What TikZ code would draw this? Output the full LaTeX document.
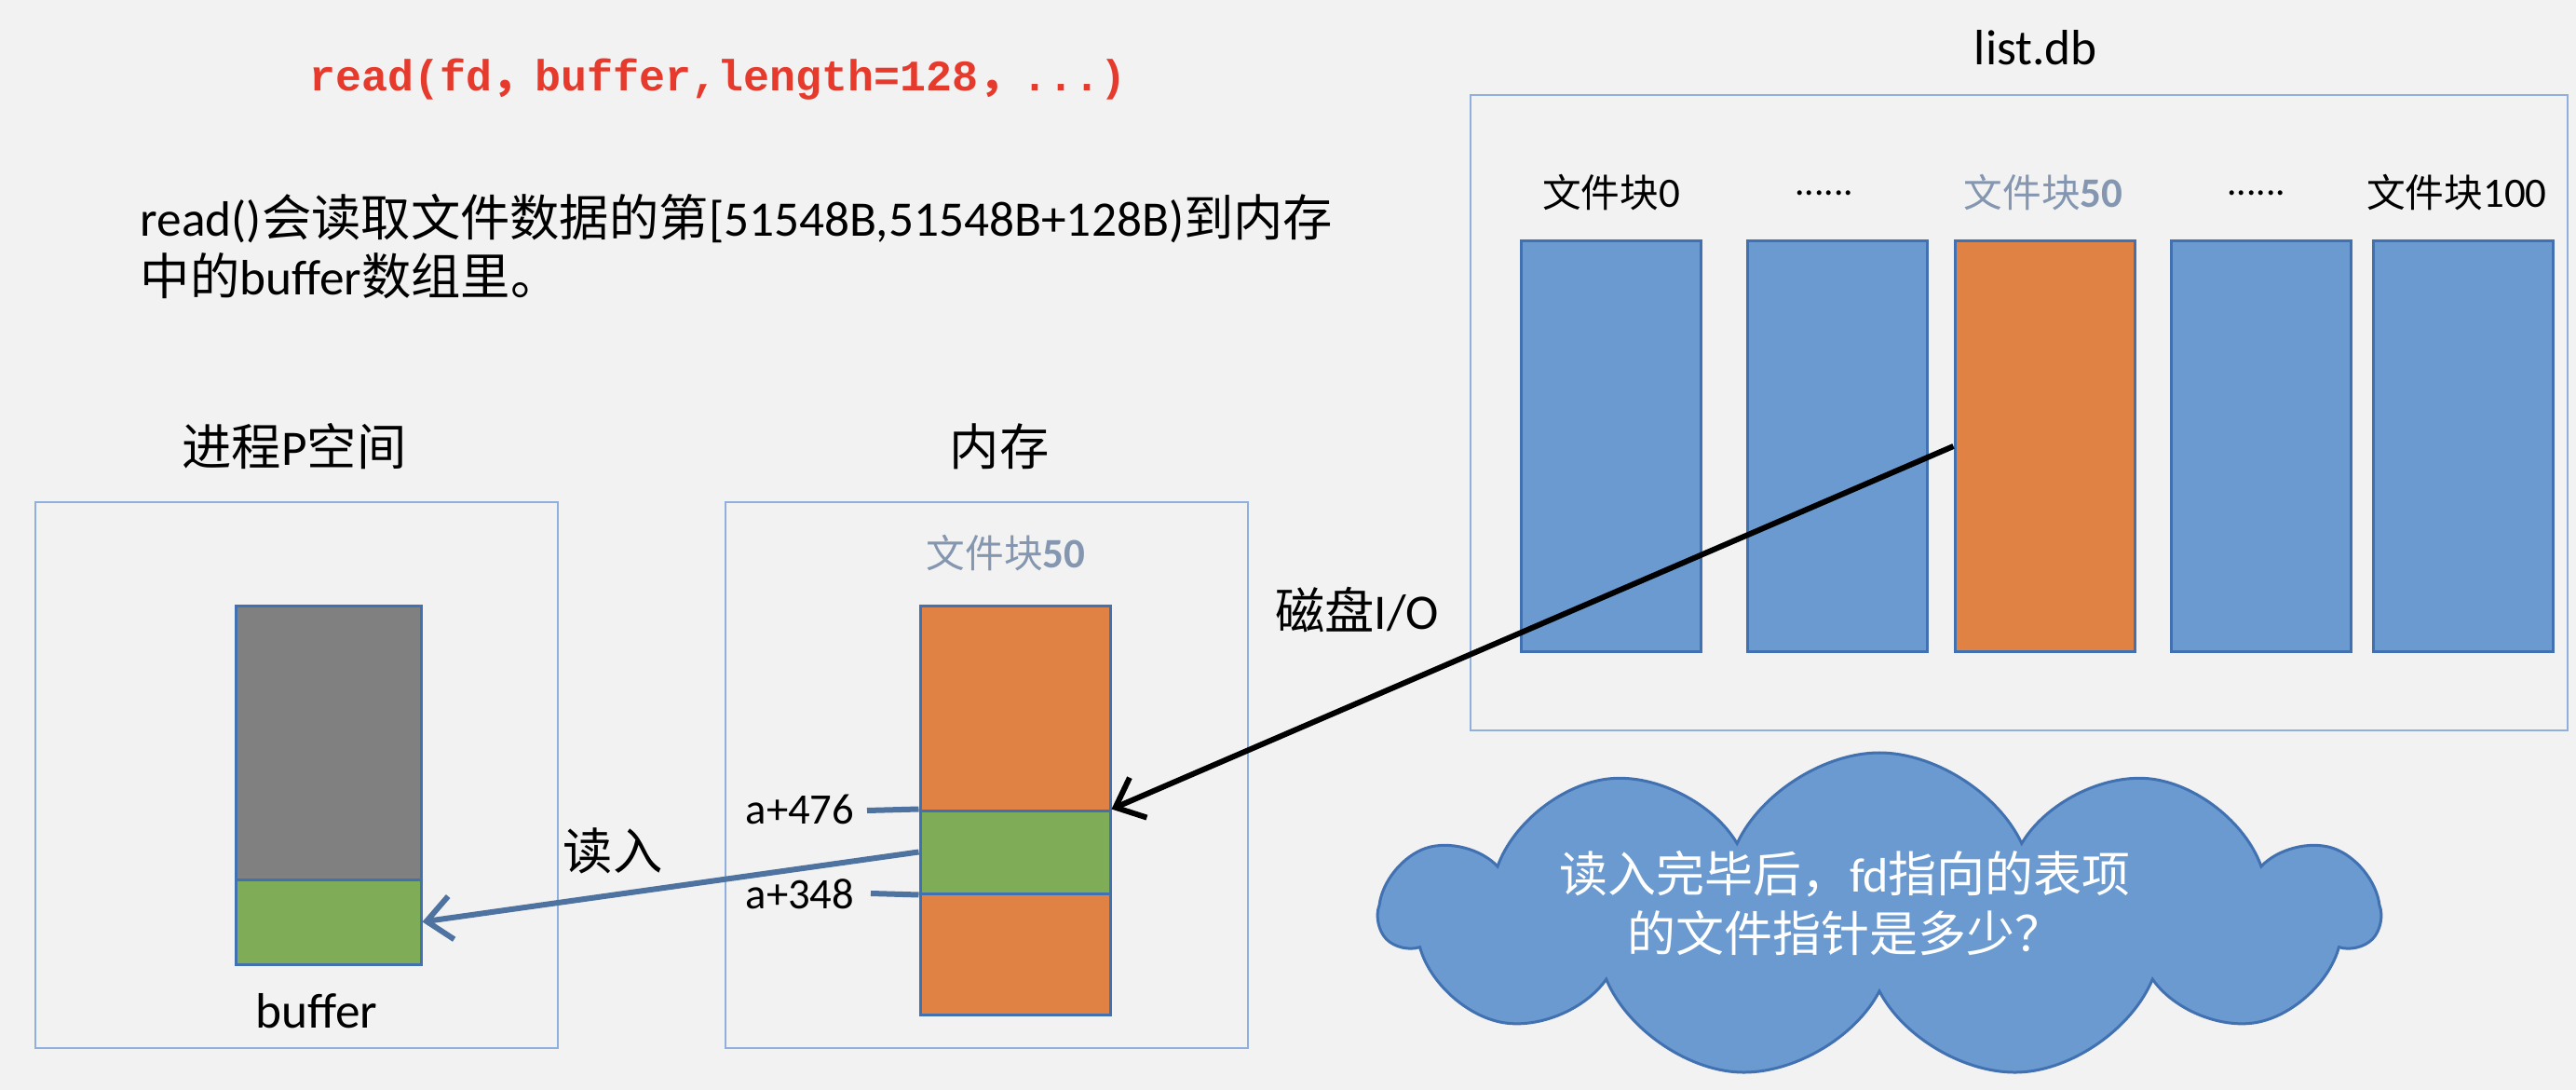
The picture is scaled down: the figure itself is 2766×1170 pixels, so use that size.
\documentclass[tikz,border=0pt]{standalone}
\usepackage{fontspec}
\setmainfont{Carlito}
\newfontfamily\cjk{Noto Sans CJK SC}
\newfontfamily\codefont{Liberation Mono}
\usetikzlibrary{arrows.meta,shapes.symbols}
\definecolor{bg}{HTML}{F2F2F2}
\definecolor{frameblue}{HTML}{8FB0DD}
\definecolor{blkblue}{HTML}{6A9AD0}
\definecolor{blkline}{HTML}{4171B0}
\definecolor{orng}{HTML}{DF8244}
\definecolor{grn}{HTML}{7FAC57}
\definecolor{gry}{HTML}{808080}
\definecolor{codered}{HTML}{E53A2C}
\definecolor{lblgray}{HTML}{8496B0}
\definecolor{steel}{HTML}{4F73A0}
\def\pxu{0.3pt}
\begin{document}
\begin{tikzpicture}[x=0.3pt,y=-0.3pt,
  t16/.style={font=\fontsize{16}{19}\selectfont, inner sep=0},
  t14/.style={font=\fontsize{14}{17}\selectfont, inner sep=0},
  t12/.style={font=\fontsize{12.5}{15}\selectfont, inner sep=0},
  frame/.style={draw=frameblue, line width=0.7pt, inner sep=0},
  blk/.style={draw=blkline, line width=0.9pt, fill=blkblue, inner sep=0,
    minimum width=193*\pxu, minimum height=440*\pxu},
  memrect/.style={draw=blkline, line width=0.9pt, inner sep=0},
  tick/.style={draw=steel, line width=1.8pt},
  diskarrow/.style={draw=black, line width=1.8pt, -{Straight Barb[length=8pt,width=14pt]}},
  readarrow/.style={draw=steel, line width=1.8pt, -{Straight Barb[length=8pt,width=14pt]}},
  ]
\fill[bg] (0,0) rectangle (2766,1170);
\useasboundingbox (0,0) rectangle (2766,1170);

% code line
\node[font=\codefont\bfseries\fontsize{14}{17}\selectfont, text=codered, inner sep=0] (code) at (771,85)
  {read(fd{\cjk ，}buffer,length=128{\cjk ，}...)};

% paragraph
\node[t16, anchor=west] (para1) at (150,235)
  {read(){\cjk 会读取文件数据的第}[51548B,51548B+128B){\cjk 到内存}};
\node[t16, anchor=west] (para2) at (150,296)
  {{\cjk 中的}buffer{\cjk 数组里。}};

% list.db
\node[t16] (listlbl) at (2186,51) {list.db};
\node[frame, minimum width=1178*\pxu, minimum height=682*\pxu] (listbox) at (2168,443) {};
\node[t12] (l0) at (1730,207) {{\cjk 文件块}{\fontsize{13.5}{15}\selectfont 0}};
\node[t12] (l1) at (1959,207) {......};
\node[t12, text=lblgray] (l50) at (2194,207) {{\cjk 文件块}{\fontsize{13.5}{15}\selectfont\bfseries 50}};
\node[t12] (l3) at (2423,207) {......};
\node[t12] (l4) at (2638,207) {{\cjk 文件块}{\fontsize{13.5}{15}\selectfont 100}};
\node[blk] (b0) at (1730,479) {};
\node[blk] (b1) at (1973,479) {};
\node[blk, fill=orng] (b50) at (2195.5,479) {};
\node[blk] (b3) at (2428,479) {};
\node[blk] (b4) at (2644.5,479) {};

% process space
\node[t16] (proclbl) at (316,479) {{\cjk 进程}P{\cjk 空间}};
\node[frame, minimum width=561*\pxu, minimum height=586*\pxu] (procbox) at (318.5,832) {};
\node[memrect, fill=gry, minimum width=199*\pxu, minimum height=294*\pxu] (bufgray) at (352.5,797) {};
\node[memrect, fill=grn, minimum width=199*\pxu, minimum height=91*\pxu] (bufgreen) at (352.5,989.5) {};
\node[t16] (buflbl) at (340,1085) {buffer};

% memory
\node[t16] (memlbl) at (1073,479) {{\cjk 内存}};
\node[frame, minimum width=561*\pxu, minimum height=586*\pxu] (membox) at (1059.5,832) {};
\node[t12, text=lblgray] (memblk) at (1080,594) {{\cjk 文件块}{\fontsize{13.5}{15}\selectfont\bfseries 50}};
\node[memrect, fill=orng, minimum width=204*\pxu, minimum height=439*\pxu] (memorange) at (1090,869.5) {};
\node[memrect, fill=grn, minimum width=204*\pxu, minimum height=89*\pxu] (memgreen) at (1090,914.5) {};
\node[t14] (a476) at (859,869) {a+476};
\node[t14] (a348) at (859,960) {a+348};
\coordinate (c476) at (931,870);
\coordinate (c348) at (935,959);
\draw[tick] (c476) -- (memgreen.north west);
\draw[tick] (c348) -- (memgreen.south west);

% arrows
\node[t16] (readlbl) at (658,913) {{\cjk 读入}};
\draw[readarrow] (memgreen.west) -- (bufgreen.east);
\node[t16] (disklbl) at (1457,655) {{\cjk 磁盘}I/O};
\draw[diskarrow] (b50.west) -- (memgreen.north east);

% cloud
\node[cloud, cloud puffs=11, cloud puff arc=130, aspect=3.0, draw=blkline, line width=0.9pt,
  fill=blkblue, minimum width=1070*\pxu, minimum height=350*\pxu, inner sep=0] (cloud) at (2018,983) {};
\node[font=\fontsize{15.6}{19.2}\selectfont, text=white, align=center, inner sep=0] (question) at (1981,970)
  {{\cjk 读入完毕后，}fd{\cjk 指向的表项}\\{\cjk 的文件指针是多少？}};
\end{tikzpicture}
\end{document}
